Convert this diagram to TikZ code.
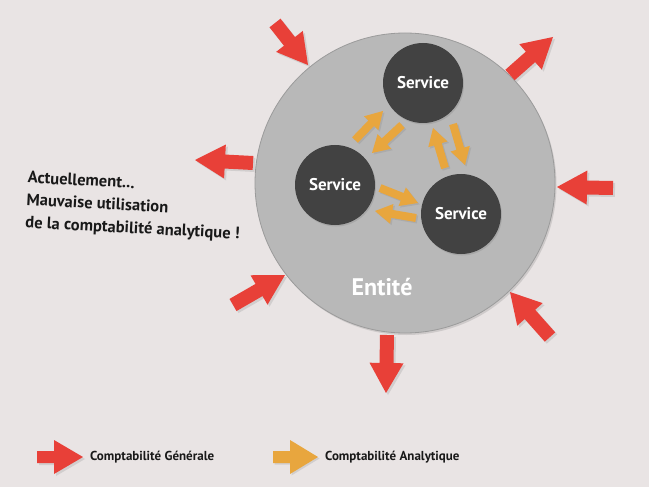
\documentclass[tikz,border=0pt]{standalone}
\usepackage{fontspec}
\setmainfont{PT Sans}
\usetikzlibrary{calc,shadows}
\definecolor{bg}{RGB}{233,228,228}
\definecolor{cred}{RGB}{232,64,56}
\definecolor{corange}{RGB}{232,166,62}
\definecolor{ent}{RGB}{184,184,184}
\definecolor{entrim}{RGB}{155,155,155}
\definecolor{srv}{RGB}{66,66,66}
\definecolor{txt}{RGB}{25,25,25}
\tikzset{
  entity/.style={circle, minimum size=300pt, inner sep=0pt, fill=ent, draw=entrim, line width=0.8pt,
    drop shadow={shadow xshift=1.5pt, shadow yshift=-2pt, opacity=0.25}},
  service/.style={circle, minimum size=80pt, inner sep=0pt, fill=srv, text=white,
    font=\bfseries\fontsize{17}{19}\selectfont,
    drop shadow={shadow xshift=1pt, shadow yshift=-1.5pt, opacity=0.3}},
  redfill/.style={fill=cred, drop shadow={shadow xshift=2pt, shadow yshift=-2pt, opacity=0.22}},
  orfill/.style={fill=corange, drop shadow={shadow xshift=1.5pt, shadow yshift=-1.5pt, opacity=0.22}},
  note/.style={text=txt, align=left, font=\bfseries\fontsize{16.5}{22.5}\selectfont, inner sep=0pt},
  legend/.style={text=txt, anchor=west, font=\bfseries\fontsize{13}{15}\selectfont, inner sep=0pt},
  entlabel/.style={text=white, font=\bfseries\fontsize{24}{27}\selectfont, inner sep=0pt}
}
% #1 tail, #2 tip, #3 style, #4 shaft half width, #5 head half width, #6 head length
\newcommand\barr[6]{%
  \coordinate (#1#2p) at ($(#2)!#6!(#1)$);
  \fill[#3] ($(#1)!#4!90:(#2)$) -- ($(#1#2p)!#4!-90:(#1)$) -- ($(#1#2p)!#5!-90:(#1)$) -- (#2)
     -- ($(#1#2p)!#5!90:(#1)$) -- ($(#1#2p)!#4!90:(#1)$) -- ($(#1)!#4!-90:(#2)$) -- cycle;}
\newcommand\redarr[2]{\barr{#1}{#2}{redfill}{7pt}{17pt}{30pt}}
\newcommand\orarr[2]{\barr{#1}{#2}{orfill}{4pt}{10pt}{17pt}}
\begin{document}
\begin{tikzpicture}[x=1pt,y=-1pt]
  \fill[bg] (0,0) rectangle (649,487);
  \useasboundingbox (0,0) rectangle (649,487);

  \node[entity] (entite) at (405,183) {};
  \node[entlabel] (entlab) at (382,287) {Entité};

  \node[service] (s1) at (423,83) {Service};
  \node[service] (s2) at (335,185) {Service};
  \node[service] (s3) at (461,214) {Service};

  % red arrows
  \coordinate (r1a) at (275,23);  \coordinate (r1b) at (308,65);
  \coordinate (r2a) at (510,75);  \coordinate (r2b) at (553,37);
  \coordinate (r3a) at (253,163); \coordinate (r3b) at (195,160);
  \coordinate (r4a) at (613,188); \coordinate (r4b) at (557,187);
  \coordinate (r5a) at (233,305); \coordinate (r5b) at (285,275);
  \coordinate (r6a) at (387,335); \coordinate (r6b) at (386,393);
  \coordinate (r7a) at (550,337); \coordinate (r7b) at (510,292);
  \redarr{r1a}{r1b}
  \redarr{r2a}{r2b}
  \redarr{r3a}{r3b}
  \redarr{r4a}{r4b}
  \redarr{r5a}{r5b}
  \redarr{r6a}{r6b}
  \redarr{r7a}{r7b}

  % orange arrows
  \coordinate (o1a) at (355,140); \coordinate (o1b) at (383,111);
  \coordinate (o2a) at (402,125); \coordinate (o2b) at (372,153);
  \coordinate (o3a) at (445,168); \coordinate (o3b) at (433,128);
  \coordinate (o4a) at (453,124); \coordinate (o4b) at (465,165);
  \coordinate (o5a) at (380,188); \coordinate (o5b) at (418,203);
  \coordinate (o6a) at (416,218); \coordinate (o6b) at (375,211);
  \orarr{o1a}{o1b}
  \orarr{o2a}{o2b}
  \orarr{o3a}{o3b}
  \orarr{o4a}{o4b}
  \orarr{o5a}{o5b}
  \orarr{o6a}{o6b}

  % note
  \node[note, anchor=north west, rotate=-3] (remark) at (28,171)
    {Actuellement...\\Mauvaise utilisation\\de la comptabilité analytique !};

  % legend
  \coordinate (lra) at (37,457);  \coordinate (lrb) at (83,457);
  \coordinate (loa) at (273,457); \coordinate (lob) at (318,457);
  \barr{lra}{lrb}{redfill}{6pt}{17pt}{29pt}
  \barr{loa}{lob}{orfill}{6pt}{17pt}{28pt}
  \node[legend] (lgen) at (90,457) {Comptabilité Générale};
  \node[legend] (lana) at (325,457) {Comptabilité Analytique};
\end{tikzpicture}
\end{document}
